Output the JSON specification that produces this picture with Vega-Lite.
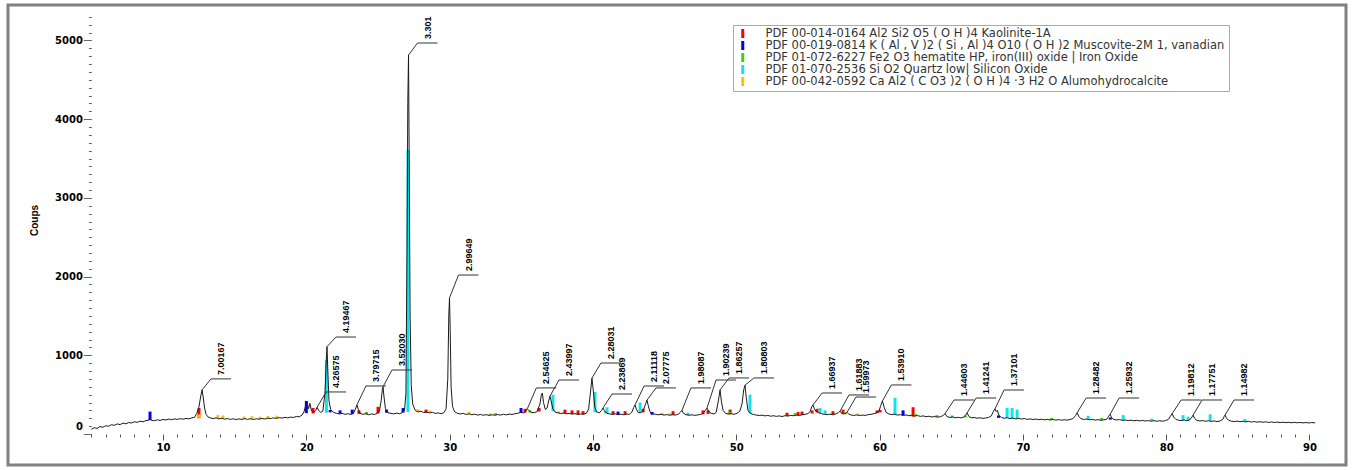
{
  "$schema": "https://vega.github.io/schema/vega-lite/v6.json",
  "width": 1338,
  "height": 460,
  "autosize": {"type": "none"},
  "padding": {"left": 8, "top": 5, "right": 10, "bottom": 5},
  "background": "white",
  "config": {
    "view": {"stroke": "#808080", "strokeWidth": 3},
    "font": "Liberation Sans"
  },
  "datasets": {
    "trace": [
      {"t":5.0,"c":60},{"t":5.2,"c":80},{"t":5.4,"c":70},{"t":5.6,"c":95},{"t":5.8,"c":85},{"t":6.0,"c":105},{"t":6.2,"c":98},{"t":6.4,"c":118},{"t":6.6,"c":110},{"t":6.8,"c":128},{"t":7.0,"c":120},{"t":7.2,"c":138},{"t":7.4,"c":130},{"t":7.6,"c":145},{"t":7.8,"c":140},{"t":8.0,"c":155},{"t":8.2,"c":148},{"t":8.4,"c":162},{"t":8.6,"c":155},{"t":8.8,"c":170},{"t":9.0,"c":175},{"t":9.1,"c":200},{"t":9.2,"c":172},{"t":9.4,"c":168},{"t":9.6,"c":180},{"t":9.8,"c":172},
      {"t":10.0,"c":185},{"t":10.2,"c":178},{"t":10.4,"c":190},{"t":10.6,"c":182},{"t":10.8,"c":192},{"t":11.0,"c":185},{"t":11.2,"c":195},{"t":11.4,"c":188},{"t":11.6,"c":198},{"t":11.8,"c":192},{"t":12.0,"c":205},{"t":12.2,"c":212},{"t":12.35,"c":260},{"t":12.5,"c":340},{"t":12.62,"c":470},{"t":12.72,"c":560},{"t":12.8,"c":470},{"t":12.9,"c":330},{"t":13.0,"c":250},{"t":13.15,"c":215},{"t":13.3,"c":205},{"t":13.5,"c":195},{"t":13.7,"c":205},{"t":13.9,"c":192},
      {"t":14.1,"c":200},{"t":14.3,"c":188},{"t":14.5,"c":196},{"t":14.7,"c":185},{"t":14.9,"c":194},{"t":15.1,"c":183},{"t":15.3,"c":192},{"t":15.5,"c":185},{"t":15.7,"c":195},{"t":15.9,"c":186},{"t":16.1,"c":194},{"t":16.3,"c":184},{"t":16.5,"c":193},{"t":16.7,"c":188},{"t":16.9,"c":198},{"t":17.1,"c":190},{"t":17.3,"c":200},{"t":17.5,"c":195},{"t":17.7,"c":205},{"t":17.9,"c":198},{"t":18.1,"c":208},{"t":18.3,"c":202},{"t":18.5,"c":212},{"t":18.7,"c":205},{"t":18.9,"c":215},{"t":19.1,"c":210},{"t":19.3,"c":222},{"t":19.5,"c":218},{"t":19.7,"c":240},{"t":19.85,"c":290},{"t":19.95,"c":360},{"t":20.05,"c":400},{"t":20.15,"c":320},{"t":20.25,"c":390},{"t":20.35,"c":300},{"t":20.5,"c":270},{"t":20.65,"c":300},{"t":20.75,"c":340},{"t":20.85,"c":300},{"t":21.0,"c":275},{"t":21.15,"c":290},{"t":21.3,"c":520},{"t":21.38,"c":900},{"t":21.44,"c":1110},{"t":21.5,"c":800},{"t":21.58,"c":420},{"t":21.7,"c":310},{"t":21.9,"c":275},
      {"t":22.1,"c":262},{"t":22.3,"c":255},{"t":22.5,"c":262},{"t":22.7,"c":250},{"t":22.9,"c":258},{"t":23.1,"c":248},{"t":23.3,"c":265},{"t":23.45,"c":330},{"t":23.53,"c":370},{"t":23.62,"c":315},{"t":23.75,"c":262},{"t":23.95,"c":250},{"t":24.15,"c":258},{"t":24.35,"c":245},{"t":24.55,"c":255},{"t":24.75,"c":248},{"t":24.95,"c":262},{"t":25.1,"c":290},{"t":25.22,"c":420},{"t":25.3,"c":560},{"t":25.35,"c":600},{"t":25.42,"c":470},{"t":25.52,"c":320},{"t":25.7,"c":270},{"t":25.9,"c":262},{"t":26.1,"c":255},{"t":26.3,"c":265},{"t":26.5,"c":258},{"t":26.7,"c":272},{"t":26.85,"c":300},{"t":26.95,"c":520},{"t":27.02,"c":2200},{"t":27.08,"c":4200},{"t":27.13,"c":4815},{"t":27.18,"c":3400},{"t":27.24,"c":1500},{"t":27.32,"c":620},{"t":27.42,"c":380},{"t":27.6,"c":300},{"t":27.8,"c":280},
      {"t":28.0,"c":290},{"t":28.2,"c":272},{"t":28.4,"c":280},{"t":28.6,"c":268},{"t":28.8,"c":275},{"t":29.0,"c":262},{"t":29.2,"c":268},{"t":29.4,"c":258},{"t":29.6,"c":270},{"t":29.75,"c":320},{"t":29.87,"c":700},{"t":29.94,"c":1500},{"t":29.99,"c":1730},{"t":30.04,"c":1300},{"t":30.1,"c":600},{"t":30.2,"c":350},{"t":30.35,"c":280},{"t":30.55,"c":262},{"t":30.75,"c":255},{"t":30.95,"c":262},{"t":31.15,"c":248},{"t":31.35,"c":256},{"t":31.55,"c":245},{"t":31.75,"c":252},{"t":31.95,"c":240},{"t":32.15,"c":248},{"t":32.35,"c":238},{"t":32.55,"c":246},{"t":32.75,"c":236},{"t":32.95,"c":244},{"t":33.15,"c":238},{"t":33.35,"c":247},{"t":33.55,"c":240},{"t":33.75,"c":250},{"t":33.95,"c":243},
      {"t":34.15,"c":254},{"t":34.35,"c":248},{"t":34.55,"c":258},{"t":34.75,"c":262},{"t":34.95,"c":275},{"t":35.15,"c":268},{"t":35.3,"c":290},{"t":35.42,"c":320},{"t":35.52,"c":300},{"t":35.7,"c":275},{"t":35.9,"c":270},{"t":36.1,"c":285},{"t":36.3,"c":380},{"t":36.4,"c":500},{"t":36.47,"c":520},{"t":36.55,"c":400},{"t":36.68,"c":310},{"t":36.8,"c":330},{"t":36.92,"c":430},{"t":37.0,"c":480},{"t":37.08,"c":420},{"t":37.2,"c":320},{"t":37.35,"c":280},{"t":37.55,"c":268},{"t":37.75,"c":260},{"t":37.95,"c":266},{"t":38.15,"c":256},{"t":38.35,"c":262},{"t":38.55,"c":252},{"t":38.75,"c":258},{"t":38.95,"c":248},{"t":39.15,"c":255},{"t":39.35,"c":250},{"t":39.55,"c":265},{"t":39.7,"c":320},{"t":39.82,"c":520},{"t":39.93,"c":710},{"t":40.02,"c":560},{"t":40.12,"c":350},{"t":40.25,"c":280},{"t":40.45,"c":268},{"t":40.6,"c":300},{"t":40.7,"c":330},{"t":40.8,"c":295},{"t":40.95,"c":265},
      {"t":41.15,"c":255},{"t":41.35,"c":248},{"t":41.55,"c":256},{"t":41.75,"c":245},{"t":41.95,"c":252},{"t":42.15,"c":244},{"t":42.35,"c":253},{"t":42.55,"c":250},{"t":42.72,"c":280},{"t":42.85,"c":340},{"t":42.94,"c":370},{"t":43.02,"c":320},{"t":43.15,"c":275},{"t":43.3,"c":268},{"t":43.5,"c":290},{"t":43.65,"c":370},{"t":43.77,"c":430},{"t":43.86,"c":360},{"t":43.98,"c":280},{"t":44.15,"c":258},{"t":44.35,"c":250},{"t":44.55,"c":244},{"t":44.75,"c":250},{"t":44.95,"c":240},{"t":45.15,"c":246},{"t":45.35,"c":238},{"t":45.55,"c":245},{"t":45.75,"c":240},{"t":45.95,"c":252},{"t":46.1,"c":275},{"t":46.21,"c":300},{"t":46.32,"c":262},{"t":46.5,"c":245},{"t":46.7,"c":238},{"t":46.9,"c":244},{"t":47.1,"c":236},{"t":47.3,"c":242},{"t":47.5,"c":248},{"t":47.7,"c":265},{"t":47.85,"c":300},{"t":47.96,"c":330},{"t":48.08,"c":285},{"t":48.25,"c":262},{"t":48.45,"c":255},{"t":48.6,"c":275},{"t":48.75,"c":420},{"t":48.87,"c":560},{"t":48.96,"c":420},{"t":49.08,"c":300},{"t":49.25,"c":262},{"t":49.45,"c":252},{"t":49.65,"c":258},{"t":49.85,"c":250},
      {"t":50.05,"c":262},{"t":50.25,"c":290},{"t":50.4,"c":380},{"t":50.52,"c":560},{"t":50.61,"c":620},{"t":50.7,"c":460},{"t":50.82,"c":300},{"t":50.98,"c":262},{"t":51.2,"c":248},{"t":51.4,"c":240},{"t":51.6,"c":235},{"t":51.8,"c":240},{"t":52.0,"c":230},{"t":52.2,"c":236},{"t":52.4,"c":226},{"t":52.6,"c":232},{"t":52.8,"c":224},{"t":53.0,"c":230},{"t":53.2,"c":222},{"t":53.4,"c":232},{"t":53.6,"c":228},{"t":53.8,"c":236},{"t":54.0,"c":232},{"t":54.2,"c":240},{"t":54.4,"c":236},{"t":54.6,"c":244},{"t":54.8,"c":250},{"t":55.0,"c":258},{"t":55.15,"c":285},{"t":55.28,"c":350},{"t":55.36,"c":370},{"t":55.45,"c":320},{"t":55.58,"c":285},{"t":55.75,"c":270},{"t":55.95,"c":258},{"t":56.15,"c":250},{"t":56.35,"c":246},{"t":56.55,"c":252},{"t":56.75,"c":244},{"t":56.95,"c":255},{"t":57.12,"c":270},{"t":57.24,"c":290},{"t":57.35,"c":262},{"t":57.5,"c":255},{"t":57.62,"c":262},{"t":57.73,"c":275},{"t":57.85,"c":252},{"t":58.0,"c":242},{"t":58.2,"c":236},{"t":58.4,"c":242},{"t":58.6,"c":234},{"t":58.8,"c":240},{"t":59.0,"c":236},{"t":59.2,"c":245},{"t":59.4,"c":250},{"t":59.6,"c":258},{"t":59.8,"c":270},{"t":59.95,"c":285},{"t":60.08,"c":360},{"t":60.2,"c":420},{"t":60.32,"c":340},{"t":60.45,"c":275},{"t":60.65,"c":255},{"t":60.85,"c":246},
      {"t":61.05,"c":252},{"t":61.25,"c":240},{"t":61.45,"c":246},{"t":61.65,"c":236},{"t":61.85,"c":242},{"t":62.05,"c":232},{"t":62.25,"c":238},{"t":62.45,"c":228},{"t":62.65,"c":234},{"t":62.85,"c":224},{"t":63.05,"c":230},{"t":63.25,"c":220},{"t":63.45,"c":226},{"t":63.65,"c":216},{"t":63.85,"c":222},{"t":64.05,"c":214},{"t":64.25,"c":220},{"t":64.45,"c":235},{"t":64.57,"c":260},{"t":64.7,"c":222},{"t":64.9,"c":210},{"t":65.1,"c":216},{"t":65.3,"c":206},{"t":65.5,"c":212},{"t":65.7,"c":204},{"t":65.9,"c":218},{"t":66.02,"c":245},{"t":66.11,"c":270},{"t":66.22,"c":225},{"t":66.4,"c":205},{"t":66.6,"c":210},{"t":66.8,"c":200},{"t":67.0,"c":206},{"t":67.2,"c":198},{"t":67.4,"c":204},{"t":67.6,"c":210},{"t":67.8,"c":230},{"t":67.95,"c":290},{"t":68.06,"c":320},{"t":68.14,"c":285},{"t":68.22,"c":300},{"t":68.32,"c":240},{"t":68.5,"c":210},{"t":68.7,"c":200},{"t":68.9,"c":206},{"t":69.1,"c":196},{"t":69.3,"c":202},{"t":69.5,"c":192},{"t":69.7,"c":198},{"t":69.9,"c":190},
      {"t":70.1,"c":196},{"t":70.3,"c":186},{"t":70.5,"c":192},{"t":70.7,"c":184},{"t":70.9,"c":190},{"t":71.1,"c":182},{"t":71.3,"c":188},{"t":71.5,"c":180},{"t":71.7,"c":186},{"t":71.9,"c":178},{"t":72.1,"c":184},{"t":72.3,"c":176},{"t":72.5,"c":183},{"t":72.7,"c":175},{"t":72.9,"c":181},{"t":73.1,"c":176},{"t":73.3,"c":184},{"t":73.5,"c":196},{"t":73.68,"c":235},{"t":73.79,"c":270},{"t":73.9,"c":225},{"t":74.05,"c":195},{"t":74.25,"c":185},{"t":74.45,"c":190},{"t":74.65,"c":180},{"t":74.85,"c":186},{"t":75.05,"c":176},{"t":75.25,"c":182},{"t":75.45,"c":174},{"t":75.65,"c":180},{"t":75.85,"c":186},{"t":75.98,"c":225},{"t":76.09,"c":250},{"t":76.2,"c":205},{"t":76.35,"c":185},{"t":76.55,"c":178},{"t":76.75,"c":184},{"t":76.95,"c":172},{"t":77.15,"c":178},{"t":77.35,"c":170},{"t":77.55,"c":176},{"t":77.75,"c":168},{"t":77.95,"c":174},{"t":78.15,"c":166},{"t":78.35,"c":172},{"t":78.55,"c":165},{"t":78.75,"c":170},{"t":78.95,"c":163},{"t":79.15,"c":169},{"t":79.35,"c":162},{"t":79.55,"c":168},{"t":79.75,"c":162},{"t":79.95,"c":170},
      {"t":80.15,"c":185},{"t":80.3,"c":225},{"t":80.42,"c":260},{"t":80.52,"c":215},{"t":80.68,"c":185},{"t":80.85,"c":176},{"t":81.05,"c":170},{"t":81.25,"c":178},{"t":81.45,"c":168},{"t":81.65,"c":180},{"t":81.8,"c":215},{"t":81.88,"c":240},{"t":81.98,"c":200},{"t":82.15,"c":172},{"t":82.35,"c":166},{"t":82.55,"c":170},{"t":82.75,"c":162},{"t":82.95,"c":168},{"t":83.15,"c":160},{"t":83.35,"c":166},{"t":83.55,"c":158},{"t":83.75,"c":164},{"t":83.95,"c":185},{"t":84.04,"c":220},{"t":84.11,"c":240},{"t":84.2,"c":205},{"t":84.35,"c":175},{"t":84.55,"c":162},{"t":84.75,"c":158},{"t":84.95,"c":164},{"t":85.15,"c":156},{"t":85.35,"c":162},{"t":85.55,"c":154},{"t":85.75,"c":160},{"t":85.95,"c":152},{"t":86.15,"c":158},{"t":86.35,"c":150},{"t":86.55,"c":156},{"t":86.75,"c":149},{"t":86.95,"c":154},{"t":87.15,"c":147},{"t":87.35,"c":153},{"t":87.55,"c":146},{"t":87.75,"c":151},{"t":87.95,"c":145},{"t":88.15,"c":150},{"t":88.35,"c":144},{"t":88.55,"c":149},{"t":88.75,"c":143},{"t":88.95,"c":148},{"t":89.15,"c":142},{"t":89.35,"c":147},{"t":89.55,"c":141},{"t":89.75,"c":146},{"t":89.95,"c":140},{"t":90.15,"c":145},{"t":90.4,"c":142}
    ],
    "sticks": [
      {"p":"K","t":12.51,"b":200,"c":330},{"p":"K","t":20.47,"b":262,"c":330},{"p":"K","t":23.67,"b":255,"c":300},{"p":"K","t":25.0,"b":260,"c":345},{"p":"K","t":28.35,"b":270,"c":310},{"p":"K","t":35.26,"b":270,"c":320},{"p":"K","t":36.24,"b":285,"c":330},{"p":"K","t":38.05,"b":262,"c":310},{"p":"K","t":38.54,"b":255,"c":300},{"p":"K","t":38.96,"b":250,"c":300},{"p":"K","t":39.31,"b":250,"c":290},{"p":"K","t":41.4,"b":250,"c":290},{"p":"K","t":42.24,"b":248,"c":290},{"p":"K","t":43.5,"b":275,"c":320},{"p":"K","t":45.59,"b":242,"c":290},{"p":"K","t":47.68,"b":250,"c":300},{"p":"K","t":48.03,"b":255,"c":300},{"p":"K","t":49.57,"b":252,"c":310},{"p":"K","t":53.54,"b":230,"c":270},{"p":"K","t":54.31,"b":236,"c":280},{"p":"K","t":54.59,"b":242,"c":285},{"p":"K","t":55.29,"b":260,"c":300},{"p":"K","t":55.64,"b":275,"c":320},{"p":"K","t":56.75,"b":246,"c":290},{"p":"K","t":57.45,"b":255,"c":310},{"p":"K","t":59.83,"b":265,"c":300},{"p":"K","t":60.04,"b":275,"c":305},{"p":"K","t":62.34,"b":220,"c":340},
      {"p":"M","t":9.09,"b":175,"c":285},{"p":"M","t":20.0,"b":265,"c":420},{"p":"M","t":21.66,"b":275,"c":305},{"p":"M","t":22.35,"b":258,"c":300},{"p":"M","t":23.2,"b":252,"c":310},{"p":"M","t":25.6,"b":270,"c":310},{"p":"M","t":26.75,"b":272,"c":330},{"p":"M","t":34.98,"b":268,"c":330},{"p":"M","t":41.75,"b":245,"c":285},{"p":"M","t":44.12,"b":245,"c":280},{"p":"M","t":61.64,"b":236,"c":300},{"p":"M","t":68.3,"b":205,"c":235},{"p":"M","t":76.1,"b":182,"c":210},
      {"p":"H","t":24.2,"b":250,"c":280},{"p":"H","t":33.2,"b":240,"c":265},{"p":"H","t":35.6,"b":272,"c":300},{"p":"H","t":40.9,"b":262,"c":290},{"p":"H","t":49.5,"b":255,"c":280},{"p":"H","t":54.1,"b":235,"c":265},{"p":"H","t":57.6,"b":250,"c":275},{"p":"H","t":62.5,"b":228,"c":255},{"p":"H","t":64.0,"b":214,"c":240},{"p":"H","t":66.0,"b":210,"c":235},{"p":"H","t":72.0,"b":180,"c":205},{"p":"H","t":75.5,"b":178,"c":205},
      {"p":"Q","t":21.4,"b":270,"c":940},{"p":"Q","t":27.09,"b":280,"c":3610},{"p":"Q","t":37.21,"b":290,"c":500},{"p":"Q","t":40.14,"b":275,"c":534},{"p":"Q","t":40.98,"b":265,"c":340},{"p":"Q","t":43.29,"b":270,"c":400},{"p":"Q","t":46.63,"b":240,"c":270},{"p":"Q","t":50.96,"b":262,"c":500},{"p":"Q","t":55.85,"b":262,"c":330},{"p":"Q","t":56.2,"b":255,"c":300},{"p":"Q","t":61.08,"b":248,"c":460},{"p":"Q","t":65.06,"b":212,"c":235},{"p":"Q","t":68.9,"b":205,"c":330},{"p":"Q","t":69.25,"b":200,"c":330},{"p":"Q","t":69.6,"b":198,"c":310},{"p":"Q","t":74.56,"b":186,"c":230},{"p":"Q","t":77.0,"b":175,"c":240},{"p":"Q","t":79.0,"b":168,"c":195},{"p":"Q","t":81.18,"b":172,"c":240},{"p":"Q","t":81.53,"b":170,"c":220},{"p":"Q","t":83.07,"b":165,"c":250},{"p":"Q","t":85.5,"b":158,"c":190},
      {"p":"A","t":12.55,"b":205,"c":250},{"p":"A","t":13.83,"b":200,"c":240},{"p":"A","t":14.18,"b":198,"c":235},{"p":"A","t":15.65,"b":190,"c":222},{"p":"A","t":16.21,"b":192,"c":225},{"p":"A","t":16.77,"b":190,"c":220},{"p":"A","t":17.33,"b":198,"c":228},{"p":"A","t":17.95,"b":200,"c":232},{"p":"A","t":27.79,"b":282,"c":315},{"p":"A","t":28.63,"b":268,"c":300},{"p":"A","t":31.35,"b":255,"c":282},{"p":"A","t":32.82,"b":238,"c":262},{"p":"A","t":37.6,"b":266,"c":290},{"p":"A","t":44.82,"b":244,"c":270},{"p":"A","t":45.38,"b":240,"c":265},{"p":"A","t":58.5,"b":238,"c":260}
    ],
    "labels": [
      {"t":12.72,"c":560,"ly":700,"s":"7.00167"},
      {"t":20.75,"c":340,"ly":534,"s":"4.26575"},
      {"t":21.44,"c":1110,"ly":1232,"s":"4.19467"},
      {"t":23.53,"c":370,"ly":610,"s":"3.79715"},
      {"t":25.35,"c":600,"ly":813,"s":"3.52030"},
      {"t":27.13,"c":4815,"ly":4968,"s":"3.301"},
      {"t":29.99,"c":1730,"ly":2020,"s":"2.99649"},
      {"t":35.42,"c":320,"ly":585,"s":"2.54625"},
      {"t":37.0,"c":480,"ly":686,"s":"2.43997"},
      {"t":39.93,"c":710,"ly":902,"s":"2.28031"},
      {"t":40.7,"c":330,"ly":508,"s":"2.23869"},
      {"t":42.94,"c":370,"ly":610,"s":"2.11118"},
      {"t":43.77,"c":430,"ly":585,"s":"2.07775"},
      {"t":46.21,"c":300,"ly":585,"s":"1.98087"},
      {"t":47.96,"c":330,"ly":686,"s":"1.90239"},
      {"t":48.87,"c":560,"ly":712,"s":"1.86257"},
      {"t":50.61,"c":620,"ly":712,"s":"1.80803"},
      {"t":55.36,"c":370,"ly":521,"s":"1.66937"},
      {"t":57.24,"c":290,"ly":496,"s":"1.61883"},
      {"t":57.73,"c":275,"ly":470,"s":"1.59973"},
      {"t":60.2,"c":420,"ly":623,"s":"1.53910"},
      {"t":64.57,"c":260,"ly":432,"s":"1.44603"},
      {"t":66.11,"c":270,"ly":457,"s":"1.41241"},
      {"t":68.06,"c":320,"ly":559,"s":"1.37101"},
      {"t":73.79,"c":270,"ly":457,"s":"1.28482"},
      {"t":76.09,"c":250,"ly":457,"s":"1.25932"},
      {"t":80.42,"c":260,"ly":432,"s":"1.19812"},
      {"t":81.88,"c":240,"ly":432,"s":"1.17751"},
      {"t":84.11,"c":240,"ly":432,"s":"1.14982"}
    ]
  },
  "encoding": {
    "x": {
      "field": "t", "type": "quantitative",
      "scale": {"domain": [-0.82, 92.55], "nice": false, "zero": false},
      "axis": {
        "values": [5,6,7,8,9,10,11,12,13,14,15,16,17,18,19,20,21,22,23,24,25,26,27,28,29,30,31,32,33,34,35,36,37,38,39,40,41,42,43,44,45,46,47,48,49,50,51,52,53,54,55,56,57,58,59,60,61,62,63,64,65,66,67,68,69,70,71,72,73,74,75,76,77,78,79,80,81,82,83,84,85,86,87,88,89,90],
        "offset": -31,
        "domain": false,
        "grid": false,
        "title": null,
        "tickColor": "#555555",
        "tickWidth": 1,
        "tickSize": {"condition": {"test": "datum.value % 10 === 0", "value": 6}, "value": 3},
        "labelExpr": "datum.value % 10 === 0 ? datum.label : ''",
        "labelFont": "DejaVu Sans",
        "labelFontWeight": "bold",
        "labelFontSize": 10,
        "labelColor": "#000000",
        "labelPadding": 2,
        "labelOverlap": false,
        "labelFlush": false
      }
    },
    "y": {
      "field": "c", "type": "quantitative",
      "scale": {"domain": [-394, 5451], "nice": false, "zero": false},
      "axis": {
        "values": [0,100,200,300,400,500,600,700,800,900,1000,1100,1200,1300,1400,1500,1600,1700,1800,1900,2000,2100,2200,2300,2400,2500,2600,2700,2800,2900,3000,3100,3200,3300,3400,3500,3600,3700,3800,3900,4000,4100,4200,4300,4400,4500,4600,4700,4800,4900,5000,5100,5200,5300],
        "offset": -83.4,
        "domain": false,
        "grid": false,
        "format": "d",
        "tickColor": "#666666",
        "tickWidth": 1,
        "tickSize": {"condition": {"test": "datum.value % 1000 === 0", "value": 8}, "value": 3},
        "labelExpr": "datum.value % 1000 === 0 ? datum.label : ''",
        "labelOffset": {"condition": {"test": "datum.value === 0", "value": -7}, "value": 0},
        "labelFont": "DejaVu Sans",
        "labelFontWeight": "bold",
        "labelFontSize": 10,
        "labelColor": "#000000",
        "labelPadding": 1,
        "labelOverlap": false,
        "labelFlush": false,
        "title": "Coups",
        "titleFont": "Liberation Sans",
        "titleFontWeight": "bold",
        "titleFontSize": 10,
        "titleColor": "#000000",
        "titleAngle": 270,
        "titleX": -57,
        "titleY": 215,
        "titleAlign": "center",
        "titleBaseline": "middle"
      }
    }
  },
  "layer": [
    {
      "data": {"name": "sticks"},
      "mark": {"type": "rule", "strokeWidth": 3},
      "encoding": {
        "y2": {"field": "b"},
        "color": {
          "field": "p", "type": "nominal",
          "scale": {"domain": ["K","M","H","Q","A"], "range": ["#ff0000","#0000ff","#44d400","#12e2ee","#ffc000"]},
          "legend": {
            "orient": "none",
            "legendX": 725,
            "legendY": 20,
            "title": null,
            "symbolType": "M0,-3L0,3",
            "symbolSize": 9,
            "symbolStrokeWidth": 3,
            "clipHeight": 9,
            "labelFont": "DejaVu Sans",
            "labelFontSize": 11.5,
            "labelColor": "#333333",
            "labelLimit": 1000,
            "labelOffset": 17,
            "rowPadding": 0,
            "padding": 4,
            "strokeColor": "#aaaaaa",
            "fillColor": "#ffffff",
            "labelExpr": "datum.label === 'K' ? 'PDF 00-014-0164 Al2 Si2 O5 ( O H )4 Kaolinite-1A' : datum.label === 'M' ? 'PDF 00-019-0814 K ( Al , V )2 ( Si , Al )4 O10 ( O H )2 Muscovite-2M 1, vanadian' : datum.label === 'H' ? 'PDF 01-072-6227 Fe2 O3 hematite HP, iron(III) oxide | Iron Oxide' : datum.label === 'Q' ? 'PDF 01-070-2536 Si O2 Quartz low| Silicon Oxide' : 'PDF 00-042-0592 Ca Al2 ( C O3 )2 ( O H )4 ·3 H2 O Alumohydrocalcite'"
          }
        }
      }
    },
    {
      "data": {"values": [{"a": 1}]},
      "mark": {"type": "rule", "color": "#777777", "strokeWidth": 1.5},
      "encoding": {
        "x": {"datum": 5},
        "x2": {"datum": 90.6},
        "y": {"datum": 0}
      }
    },
    {
      "data": {"name": "trace"},
      "mark": {"type": "line", "color": "#1a1a1a", "strokeWidth": 1}
    },
    {
      "data": {"name": "labels"},
      "mark": {"type": "rule", "color": "#333333", "strokeWidth": 1, "x2Offset": 9},
      "encoding": {
        "x2": {"field": "t"},
        "y2": {"field": "ly"}
      }
    },
    {
      "data": {"name": "labels"},
      "mark": {"type": "rule", "color": "#333333", "strokeWidth": 1, "xOffset": 9, "x2Offset": 29},
      "encoding": {
        "y": {"field": "ly", "type": "quantitative"},
        "x2": {"field": "t"}
      }
    },
    {
      "data": {"name": "labels"},
      "mark": {"type": "text", "angle": 270, "align": "left", "baseline": "middle", "xOffset": 19, "yOffset": -4, "font": "Liberation Sans", "fontWeight": "bold", "fontSize": 9, "color": "#000000"},
      "encoding": {
        "y": {"field": "ly", "type": "quantitative"},
        "text": {"field": "s"}
      }
    }
  ]
}
